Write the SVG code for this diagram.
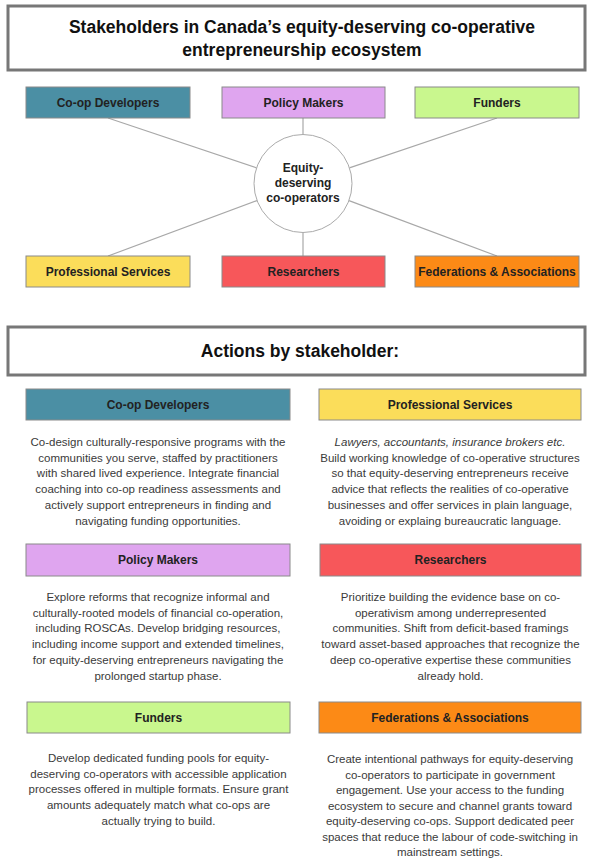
<svg xmlns="http://www.w3.org/2000/svg" width="589" height="859" viewBox="0 0 589 859">
<style>
  text { font-family: "Liberation Sans", Arial, sans-serif; }
  .title { font-size: 17.5px; font-weight: bold; fill: #111; text-anchor: middle; }
  .lbl { font-size: 12px; font-weight: bold; fill: #222; text-anchor: middle; }
  .body { font-size: 11.5px; fill: #3a3a3a; text-anchor: middle; }
  .frame { fill: #fff; stroke: #777; stroke-width: 3; }
  .box { stroke: #8a8a8a; stroke-width: 1; }
  .conn { stroke: #a8a8a8; stroke-width: 1.2; fill: none; }
  .teal { fill: #4b8fa4; }
  .lav { fill: #dfa5ef; }
  .lime { fill: #c9f78e; }
  .yel { fill: #fbdd5a; }
  .red { fill: #f7575a; }
  .org { fill: #fc8a16; }
</style>
<rect width="589" height="859" fill="#fff"/>

<g id="title">
  <rect class="frame" x="8" y="6" width="577" height="64"/>
  <text class="title" x="302" y="33">Stakeholders in Canada’s equity-deserving co-operative</text>
  <text class="title" x="302" y="56">entrepreneurship ecosystem</text>
</g>

<g id="connectors">
  <line class="conn" x1="108" y1="118" x2="256.6" y2="167.9"/>
  <line class="conn" x1="303" y1="118" x2="303" y2="134.5"/>
  <line class="conn" x1="497" y1="118" x2="349.4" y2="167.9"/>
  <line class="conn" x1="108" y1="256" x2="257" y2="200.6"/>
  <line class="conn" x1="303" y1="232.5" x2="303" y2="256"/>
  <line class="conn" x1="497" y1="256" x2="349" y2="200.6"/>
</g>

<g id="center">
  <circle cx="303" cy="183.5" r="49" fill="#fff" stroke="#aaa" stroke-width="1"/>
  <text class="lbl" x="303" y="172">Equity-</text>
  <text class="lbl" x="303" y="187">deserving</text>
  <text class="lbl" x="303" y="202">co-operators</text>
</g>

<g id="n-coop">
  <rect class="box teal" x="26" y="87" width="164" height="31"/>
  <text class="lbl" x="108" y="107">Co-op Developers</text>
</g>
<g id="n-policy">
  <rect class="box lav" x="222" y="87" width="163" height="31"/>
  <text class="lbl" x="303.5" y="107">Policy Makers</text>
</g>
<g id="n-funders">
  <rect class="box lime" x="415" y="87" width="164" height="31"/>
  <text class="lbl" x="497" y="107">Funders</text>
</g>
<g id="n-prof">
  <rect class="box yel" x="26" y="256" width="164" height="31"/>
  <text class="lbl" x="108" y="276">Professional Services</text>
</g>
<g id="n-research">
  <rect class="box red" x="222" y="256" width="163" height="31"/>
  <text class="lbl" x="303.5" y="276">Researchers</text>
</g>
<g id="n-fed">
  <rect class="box org" x="415" y="256" width="164" height="31"/>
  <text class="lbl" x="497" y="276">Federations &amp; Associations</text>
</g>

<g id="actions-title">
  <rect class="frame" x="8" y="327" width="577" height="48"/>
  <text class="title" x="300" y="357">Actions by stakeholder:</text>
</g>

<g id="a-coop">
  <rect class="box teal" x="26" y="389" width="264" height="31"/>
  <text class="lbl" x="158" y="409">Co-op Developers</text>
  <text class="body" x="158" y="446">Co-design culturally-responsive programs with the</text>
  <text class="body" x="158" y="461.7">communities you serve, staffed by practitioners</text>
  <text class="body" x="158" y="477.4">with shared lived experience. Integrate financial</text>
  <text class="body" x="158" y="493.1">coaching into co-op readiness assessments and</text>
  <text class="body" x="158" y="508.8">actively support entrepreneurs in finding and</text>
  <text class="body" x="158" y="524.5">navigating funding opportunities.</text>
</g>

<g id="a-prof">
  <rect class="box yel" x="319" y="389" width="262" height="31"/>
  <text class="lbl" x="450" y="409">Professional Services</text>
  <text class="body" x="450" y="446" font-style="italic">Lawyers, accountants, insurance brokers etc.</text>
  <text class="body" x="450" y="461.7">Build working knowledge of co-operative structures</text>
  <text class="body" x="450" y="477.4">so that equity-deserving entrepreneurs receive</text>
  <text class="body" x="450" y="493.1">advice that reflects the realities of co-operative</text>
  <text class="body" x="450" y="508.8">businesses and offer services in plain language,</text>
  <text class="body" x="450" y="524.5">avoiding or explaing bureaucratic language.</text>
</g>

<g id="a-policy">
  <rect class="box lav" x="26" y="544" width="264" height="32"/>
  <text class="lbl" x="158" y="564">Policy Makers</text>
  <text class="body" x="158" y="601">Explore reforms that recognize informal and</text>
  <text class="body" x="158" y="616.7">culturally-rooted models of financial co-operation,</text>
  <text class="body" x="158" y="632.4">including ROSCAs. Develop bridging resources,</text>
  <text class="body" x="158" y="648.1">including income support and extended timelines,</text>
  <text class="body" x="158" y="663.8">for equity-deserving entrepreneurs navigating the</text>
  <text class="body" x="158" y="679.5">prolonged startup phase.</text>
</g>

<g id="a-research">
  <rect class="box red" x="320" y="544" width="261" height="32"/>
  <text class="lbl" x="450.5" y="564">Researchers</text>
  <text class="body" x="450.5" y="601">Prioritize building the evidence base on co-</text>
  <text class="body" x="450.5" y="616.7">operativism among underrepresented</text>
  <text class="body" x="450.5" y="632.4">communities. Shift from deficit-based framings</text>
  <text class="body" x="450.5" y="648.1">toward asset-based approaches that recognize the</text>
  <text class="body" x="450.5" y="663.8">deep co-operative expertise these communities</text>
  <text class="body" x="450.5" y="679.5">already hold.</text>
</g>

<g id="a-funders">
  <rect class="box lime" x="27" y="702" width="263" height="31"/>
  <text class="lbl" x="158.5" y="722">Funders</text>
  <text class="body" x="158.5" y="762">Develop dedicated funding pools for equity-</text>
  <text class="body" x="158.5" y="777.7">deserving co-operators with accessible application</text>
  <text class="body" x="158.5" y="793.4">processes offered in multiple formats. Ensure grant</text>
  <text class="body" x="158.5" y="809.1">amounts adequately match what co-ops are</text>
  <text class="body" x="158.5" y="824.8">actually trying to build.</text>
</g>

<g id="a-fed">
  <rect class="box org" x="319" y="702" width="262" height="31"/>
  <text class="lbl" x="450" y="722">Federations &amp; Associations</text>
  <text class="body" x="450" y="763">Create intentional pathways for equity-deserving</text>
  <text class="body" x="450" y="778.5">co-operators to participate in government</text>
  <text class="body" x="450" y="794">engagement. Use your access to the funding</text>
  <text class="body" x="450" y="809.5">ecosystem to secure and channel grants toward</text>
  <text class="body" x="450" y="825">equity-deserving co-ops. Support dedicated peer</text>
  <text class="body" x="450" y="840.5">spaces that reduce the labour of code-switching in</text>
  <text class="body" x="450" y="856">mainstream settings.</text>
</g>
</svg>
